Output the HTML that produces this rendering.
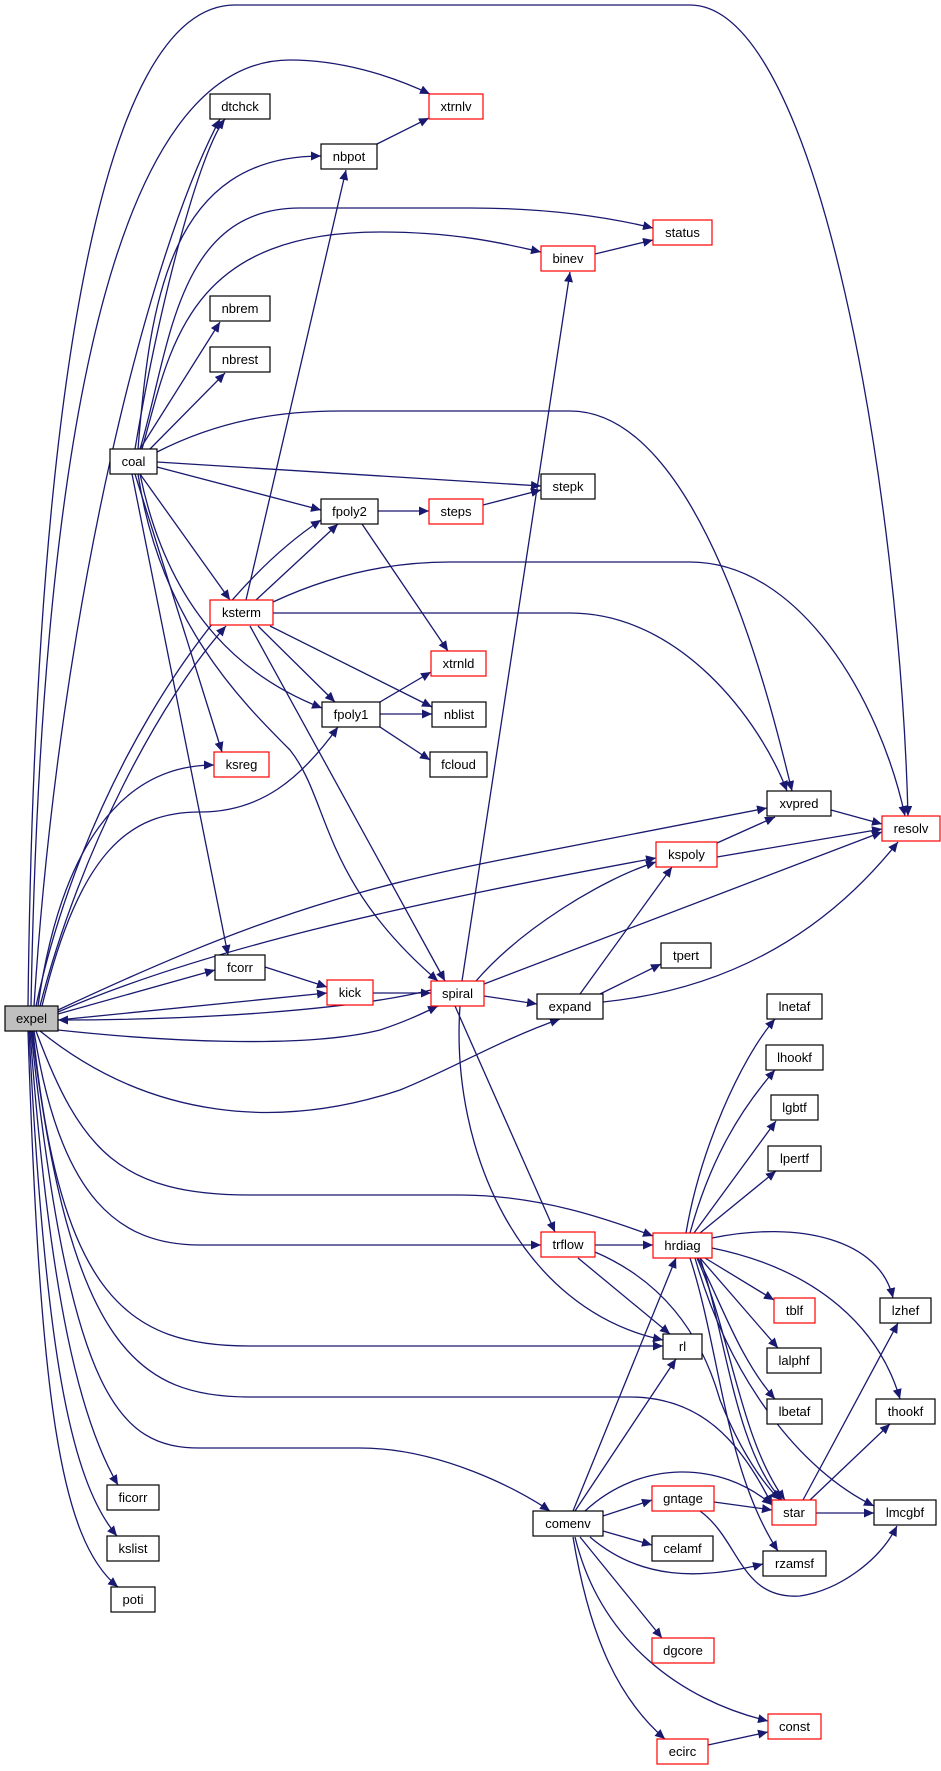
<!DOCTYPE html>
<html><head><meta charset="utf-8"><style>
html,body{margin:0;padding:0;background:#fff;}
svg{display:block}
text{font-family:"Liberation Sans",Arial,sans-serif;font-size:13px;text-anchor:middle;fill:#000}
.e{fill:none;stroke:#191970;stroke-width:1.3;marker-end:url(#a)}
.n{fill:#fff;stroke:#000;stroke-width:1.2}
.r{fill:#fff;stroke:#ff0000;stroke-width:1.2}
</style></head><body>
<svg width="941" height="1771" viewBox="0 0 941 1771" xmlns="http://www.w3.org/2000/svg">
<defs><marker id="a" markerUnits="userSpaceOnUse" markerWidth="11" markerHeight="9" refX="10" refY="4.5" orient="auto"><path d="M0,0 L10,4.5 L0,9 z" fill="#191970"/></marker></defs>
<g>
<path class="e" d="M28,1006 C35,400 100,5 235,5 L690,5 C820,5 900,500 908,816"/>
<path class="e" d="M31,1006 C40,500 100,60 290,60 C340,60 390,75 430,94"/>
<path class="e" d="M34,1006 C60,600 150,250 220,119"/>
<path class="e" d="M135,449 C160,300 200,150 225,119"/>
<path class="e" d="M138,449 C150,300 170,156 321,156"/>
<path class="e" d="M140,449 C170,350 175,208 300,208 L470,208 C560,208 620,220 653,228"/>
<path class="e" d="M142,449 C170,350 185,232 380,232 C460,232 510,245 541,252"/>
<path class="e" d="M140,449 L220,322"/>
<path class="e" d="M150,449 L225,373"/>
<path class="e" d="M157,452 C220,420 280,411 340,411 L570,411 C700,411 770,700 792,791"/>
<path class="e" d="M157,462 L541,486"/>
<path class="e" d="M157,467 L321,510"/>
<path class="e" d="M377,144 L429,118"/>
<path class="e" d="M595,254 L653,240"/>
<path class="e" d="M378,511 L429,511"/>
<path class="e" d="M483,505 L541,490"/>
<path class="e" d="M362,524 L448,651"/>
<path class="e" d="M246,600 L346,170"/>
<path class="e" d="M256,600 L338,524"/>
<path class="e" d="M140,474 L230,600"/>
<path class="e" d="M36,1006 C80,800 200,600 321,520"/>
<path class="e" d="M273,602 C320,580 380,562 450,562 L690,562 C800,562 880,700 905,816"/>
<path class="e" d="M273,613 L570,613 C680,613 760,720 787,791"/>
<path class="e" d="M258,626 L335,702"/>
<path class="e" d="M270,626 L432,707"/>
<path class="e" d="M250,626 L445,981"/>
<path class="e" d="M140,474 C170,620 250,680 322,708"/>
<path class="e" d="M138,474 C160,620 240,700 290,750 C330,800 320,880 438,981"/>
<path class="e" d="M135,474 L222,752"/>
<path class="e" d="M132,474 L228,955"/>
<path class="e" d="M40,1006 C80,850 160,700 226,626"/>
<path class="e" d="M38,1006 C60,850 120,765 214,765"/>
<path class="e" d="M42,1006 C80,850 130,812 200,812 C260,812 300,780 338,727"/>
<path class="e" d="M380,702 L431,672"/>
<path class="e" d="M380,714 L432,714"/>
<path class="e" d="M380,727 L430,760"/>
<path class="e" d="M58,1010 C250,920 350,890 500,860 L767,808"/>
<path class="e" d="M58,1012 C200,950 400,905 656,858"/>
<path class="e" d="M831,810 L882,824"/>
<path class="e" d="M717,843 L775,817"/>
<path class="e" d="M717,857 L882,829"/>
<path class="e" d="M58,1014 L215,970"/>
<path class="e" d="M58,1020 L327,993"/>
<path class="e" d="M431,990 C350,1010 200,1020 58,1020"/>
<path class="e" d="M58,1030 C150,1040 300,1050 380,1030 C410,1020 425,1012 438,1006"/>
<path class="e" d="M265,967 L327,987"/>
<path class="e" d="M373,993 L431,993"/>
<path class="e" d="M462,981 L570,272"/>
<path class="e" d="M476,981 C520,930 600,880 656,862"/>
<path class="e" d="M484,984 L882,832"/>
<path class="e" d="M484,996 L537,1004"/>
<path class="e" d="M580,994 L672,867"/>
<path class="e" d="M600,994 L661,964"/>
<path class="e" d="M603,1002 C720,990 820,940 898,842"/>
<path class="e" d="M40,1031 C150,1120 280,1130 400,1090 C450,1070 500,1040 560,1019"/>
<path class="e" d="M455,1006 L555,1232"/>
<path class="e" d="M460,1006 C450,1150 520,1310 663,1340"/>
<path class="e" d="M36,1031 C80,1150 120,1195 250,1195 L460,1195 C540,1195 610,1220 653,1236"/>
<path class="e" d="M34,1031 C60,1200 120,1245 200,1245 L541,1245"/>
<path class="e" d="M33,1031 C60,1300 130,1346 250,1346 L663,1346"/>
<path class="e" d="M32,1031 C70,1350 140,1397 250,1397 L630,1397 C700,1397 740,1440 772,1505"/>
<path class="e" d="M31,1031 C70,1400 120,1448 200,1448 L360,1448 C440,1448 520,1490 550,1511"/>
<path class="e" d="M30,1031 C50,1300 80,1420 118,1485"/>
<path class="e" d="M29,1031 C45,1350 70,1480 117,1536"/>
<path class="e" d="M28,1031 C40,1400 60,1540 118,1587"/>
<path class="e" d="M595,1245 L653,1245"/>
<path class="e" d="M578,1258 L670,1334"/>
<path class="e" d="M595,1252 C660,1280 700,1330 720,1400 C740,1450 760,1480 780,1500"/>
<path class="e" d="M686,1233 C700,1150 740,1060 775,1019"/>
<path class="e" d="M690,1233 C710,1160 740,1110 775,1070"/>
<path class="e" d="M694,1233 L776,1121"/>
<path class="e" d="M700,1233 L776,1171"/>
<path class="e" d="M712,1238 C800,1220 880,1240 893,1298"/>
<path class="e" d="M712,1248 C820,1270 880,1330 900,1399"/>
<path class="e" d="M705,1258 L774,1300"/>
<path class="e" d="M700,1258 L778,1348"/>
<path class="e" d="M698,1258 C720,1300 740,1360 775,1399"/>
<path class="e" d="M697,1258 C730,1330 740,1440 785,1500"/>
<path class="e" d="M700,1258 C725,1330 735,1450 782,1500"/>
<path class="e" d="M695,1258 C730,1380 800,1470 874,1506"/>
<path class="e" d="M690,1258 C720,1350 725,1470 778,1551"/>
<path class="e" d="M573,1511 L676,1258"/>
<path class="e" d="M575,1511 L676,1359"/>
<path class="e" d="M585,1511 C640,1460 720,1460 772,1505"/>
<path class="e" d="M603,1516 L652,1500"/>
<path class="e" d="M603,1531 L652,1545"/>
<path class="e" d="M590,1537 C640,1580 700,1580 763,1564"/>
<path class="e" d="M580,1537 L662,1638"/>
<path class="e" d="M575,1537 C600,1640 680,1700 768,1721"/>
<path class="e" d="M573,1537 C590,1640 620,1700 665,1739"/>
<path class="e" d="M708,1745 L768,1732"/>
<path class="e" d="M714,1502 L772,1510"/>
<path class="e" d="M700,1511 C740,1540 740,1600 800,1596 C840,1590 880,1560 897,1526"/>
<path class="e" d="M816,1513 L874,1513"/>
<path class="e" d="M803,1500 L898,1323"/>
<path class="e" d="M810,1500 L890,1424"/>
</g>
<g>
<rect x="5" y="1006" width="53" height="25" fill="#bfbfbf" stroke="#000" stroke-width="1.2"/><text x="31.5" y="1023">expel</text>
<rect class="n" x="210" y="94" width="60" height="25"/><text x="240" y="111">dtchck</text>
<rect class="r" x="429" y="94" width="54" height="25"/><text x="456" y="111">xtrnlv</text>
<rect class="n" x="321" y="144" width="56" height="25"/><text x="349" y="161">nbpot</text>
<rect class="r" x="653" y="220" width="59" height="25"/><text x="682.5" y="237">status</text>
<rect class="r" x="541" y="246" width="54" height="25"/><text x="568" y="263">binev</text>
<rect class="n" x="210" y="296" width="60" height="25"/><text x="240" y="313">nbrem</text>
<rect class="n" x="210" y="347" width="60" height="25"/><text x="240" y="364">nbrest</text>
<rect class="n" x="110" y="449" width="47" height="25"/><text x="133.5" y="466">coal</text>
<rect class="n" x="541" y="474" width="54" height="25"/><text x="568" y="491">stepk</text>
<rect class="n" x="321" y="499" width="57" height="25"/><text x="349.5" y="516">fpoly2</text>
<rect class="r" x="429" y="499" width="54" height="25"/><text x="456" y="516">steps</text>
<rect class="r" x="210" y="600" width="63" height="25"/><text x="241.5" y="617">ksterm</text>
<rect class="r" x="431" y="651" width="55" height="25"/><text x="458.5" y="668">xtrnld</text>
<rect class="n" x="322" y="702" width="58" height="25"/><text x="351" y="719">fpoly1</text>
<rect class="n" x="432" y="702" width="54" height="25"/><text x="459" y="719">nblist</text>
<rect class="n" x="430" y="752" width="57" height="25"/><text x="458.5" y="769">fcloud</text>
<rect class="r" x="214" y="752" width="55" height="25"/><text x="241.5" y="769">ksreg</text>
<rect class="n" x="767" y="791" width="64" height="25"/><text x="799" y="808">xvpred</text>
<rect class="r" x="882" y="816" width="58" height="25"/><text x="911" y="833">resolv</text>
<rect class="r" x="656" y="842" width="61" height="25"/><text x="686.5" y="859">kspoly</text>
<rect class="n" x="661" y="943" width="50" height="25"/><text x="686" y="960">tpert</text>
<rect class="n" x="215" y="955" width="50" height="25"/><text x="240" y="972">fcorr</text>
<rect class="r" x="327" y="980" width="46" height="25"/><text x="350" y="997">kick</text>
<rect class="r" x="431" y="981" width="53" height="25"/><text x="457.5" y="998">spiral</text>
<rect class="n" x="537" y="994" width="66" height="25"/><text x="570" y="1011">expand</text>
<rect class="n" x="767" y="994" width="55" height="25"/><text x="794.5" y="1011">lnetaf</text>
<rect class="n" x="766" y="1045" width="57" height="25"/><text x="794.5" y="1062">lhookf</text>
<rect class="n" x="771" y="1095" width="47" height="25"/><text x="794.5" y="1112">lgbtf</text>
<rect class="n" x="768" y="1146" width="53" height="25"/><text x="794.5" y="1163">lpertf</text>
<rect class="r" x="653" y="1233" width="59" height="25"/><text x="682.5" y="1250">hrdiag</text>
<rect class="r" x="541" y="1232" width="54" height="25"/><text x="568" y="1249">trflow</text>
<rect class="r" x="774" y="1298" width="41" height="25"/><text x="794.5" y="1315">tblf</text>
<rect class="n" x="880" y="1298" width="51" height="25"/><text x="905.5" y="1315">lzhef</text>
<rect class="n" x="663" y="1334" width="39" height="25"/><text x="682.5" y="1351">rl</text>
<rect class="n" x="767" y="1348" width="54" height="25"/><text x="794" y="1365">lalphf</text>
<rect class="n" x="767" y="1399" width="55" height="25"/><text x="794.5" y="1416">lbetaf</text>
<rect class="n" x="876" y="1399" width="59" height="25"/><text x="905.5" y="1416">thookf</text>
<rect class="n" x="107" y="1485" width="52" height="25"/><text x="133" y="1502">ficorr</text>
<rect class="r" x="652" y="1486" width="62" height="25"/><text x="683" y="1503">gntage</text>
<rect class="r" x="772" y="1500" width="44" height="25"/><text x="794" y="1517">star</text>
<rect class="n" x="874" y="1500" width="62" height="25"/><text x="905" y="1517">lmcgbf</text>
<rect class="n" x="533" y="1511" width="70" height="25"/><text x="568" y="1528">comenv</text>
<rect class="n" x="107" y="1536" width="52" height="25"/><text x="133" y="1553">kslist</text>
<rect class="n" x="652" y="1536" width="61" height="25"/><text x="682.5" y="1553">celamf</text>
<rect class="n" x="763" y="1551" width="63" height="25"/><text x="794.5" y="1568">rzamsf</text>
<rect class="n" x="111" y="1587" width="44" height="25"/><text x="133" y="1604">poti</text>
<rect class="r" x="652" y="1638" width="62" height="25"/><text x="683" y="1655">dgcore</text>
<rect class="r" x="768" y="1714" width="53" height="25"/><text x="794.5" y="1731">const</text>
<rect class="r" x="657" y="1739" width="51" height="25"/><text x="682.5" y="1756">ecirc</text>
</g>
</svg>
</body></html>
